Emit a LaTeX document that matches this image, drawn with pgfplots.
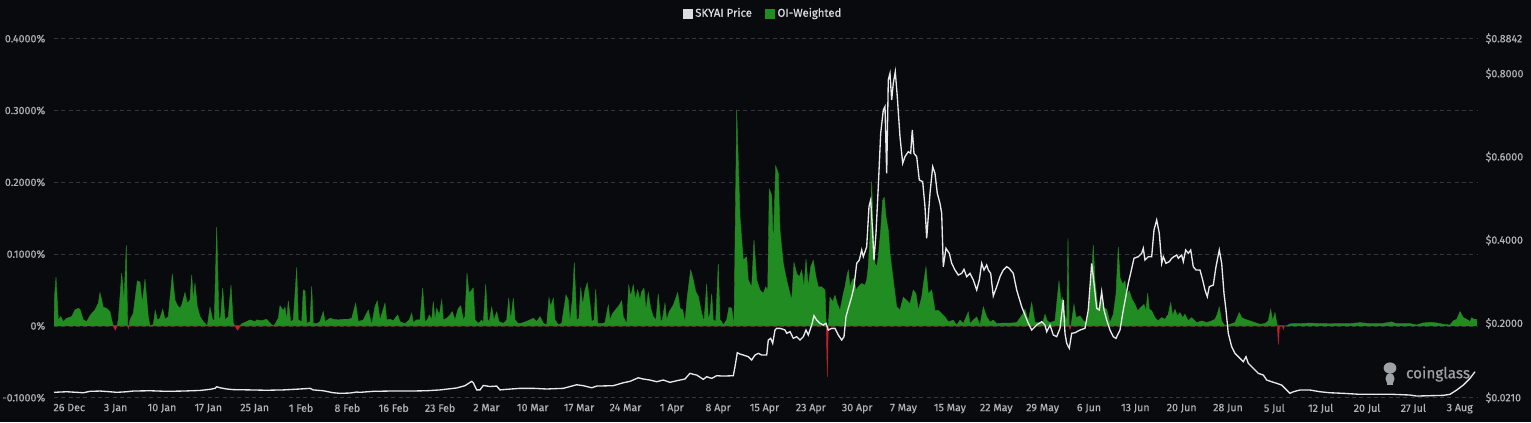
\documentclass[border=0pt]{standalone}
\usepackage{fontspec}
\setmainfont{Fira Sans}
\newfontfamily\lblfont{Fira Sans}[FakeBold=0.5]
\usepackage{pgfplots}
\usepackage{pgfplotstable}
\pgfplotsset{compat=1.18}
\definecolor{bg}{HTML}{090A0E}
\definecolor{gridc}{HTML}{34373D}
\definecolor{oig}{HTML}{218C21}
\definecolor{negr}{HTML}{C4202E}
\definecolor{lbl}{HTML}{AEB1B6}
\definecolor{legtxt}{HTML}{DADCDF}
\definecolor{pricec}{HTML}{E8E8E8}
\definecolor{wm}{HTML}{9EA1A6}

\pgfplotstableread{
x v
54 0
54.5 0.041
56 0.068
58.3 0.0084
60.7 0.013
63.3 0.006
66.7 0.0107
71.7 0.013
75 0.0223
78.3 0.0246
80 0.023
83.3 0.0084
86.7 0.006
90 0.0144
95 0.0223
98.3 0.0316
100 0.0465
103.3 0.026
106.7 0.0246
110 0.020
111.7 0.0084
113.3 0
117 0
118.3 0.0084
121.7 0.0735
124 0.036
126.3 0.112
127.7 0
129 0
130 0.0084
133.3 0.0177
137.3 0.0628
140 0.061
142.3 0.0316
145 0.065
148.3 0.013
150 0
153.3 0.002
155.3 0.0214
157.3 0.0084
160 0.0107
162.7 0.0232
165 0.0093
168.3 0.013
172.3 0.072
175 0.036
177.7 0.028
180 0.0246
181.7 0.029
185 0.0465
187.3 0.0316
190 0.036
191.7 0.071
193.3 0.036
195 0.0595
197.3 0.027
200 0.013
203.3 0.006
207.3 0
210 0.026
212.7 0.0084
214.3 0.0084
216.7 0.1376
219 0.0084
220.7 0.013
222.7 0.0525
225 0.0084
228.3 0.013
231 0.057
233.3 0.0037
235 0
240 0
241.7 0.003
246.7 0.006
250 0.0084
255 0.006
256.7 0.0084
261.7 0.0074
266.7 0.0093
271.7 0.0014
274 0
278.3 0.0107
280 0.028
283.3 0.0214
285 0.026
286.7 0.0084
288.3 0.035
290.7 0.006
293.3 0.0084
296.7 0.0814
298.3 0.0084
301.7 0.006
303.3 0.050
305 0.049
306.7 0.0037
310 0.006
311.7 0.055
313.3 0.0037
316.7 0.003
320 0.006
323.3 0.020
325 0.006
330 0.0107
333.3 0.0093
338.3 0.0084
343.3 0.0093
348.3 0.0093
351.7 0.0107
355.7 0.0316
358.3 0.006
363.3 0.0084
368.3 0.0223
371.7 0.0014
375 0.027
377.3 0.035
380 0.0084
385 0.0316
386.7 0.0084
390 0.0093
393.3 0.0074
397.7 0.0153
400 0.006
405 0.003
409.3 0.0084
411.7 0.0177
413.3 0.0046
416.7 0.0084
420 0.0084
422.7 0.0525
425 0.006
427.3 0.0084
429.3 0.0153
431.7 0.0084
433.3 0.034
435 0.0084
436.7 0.0246
439.3 0.0153
441.7 0.036
443.3 0.0084
446.7 0.0107
450 0.0153
452.3 0.020
455 0.0084
458.3 0.0246
460.7 0.028
463.3 0.0084
465 0.013
467 0.0735
469 0.0456
471.7 0.050
473.3 0.053
475 0.0084
478.3 0.0037
481.7 0.0084
483.3 0.0037
485.7 0.058
487.7 0.0084
489.3 0.006
491.7 0.026
494 0.0084
496.7 0.0195
499 0.006
503.3 0.0037
506.7 0.0084
508.7 0.0386
510.7 0.0084
513.3 0.0386
515 0.0084
518.3 0.003
523.3 0.0046
530 0.0084
533.3 0.0107
536.7 0.006
540 0.013
543.3 0.0037
546.7 0.0014
549 0.0395
550.7 0.027
553.3 0.0386
555 0.0084
558.3 0.0014
561.7 0.0037
566 0.0432
568.3 0.036
570 0.006
572.3 0.036
574.3 0.0883
576.7 0.0084
579 0.0107
580.7 0.0535
582.7 0.029
585 0.050
587.3 0.060
590 0.0316
591.7 0.006
594 0.0084
595.7 0.051
597.7 0.0037
601.7 0.003
605 0.0046
608.3 0.029
610 0.0084
612.7 0.0177
616 0.0232
619.3 0.029
621.7 0.035
623.3 0.013
626.7 0.003
628.7 0.0567
630.7 0.041
633.3 0.0572
635.3 0.037
637.7 0.050
640 0.036
641.7 0.048
644 0.0525
646 0.0223
648.3 0.0465
650.7 0.0246
653.3 0.013
656 0.0084
658.3 0.0446
660.7 0.006
662.3 0.0084
665 0.0316
666.7 0.0084
669.3 0.020
673.3 0.029
677.7 0.0465
680 0.0246
682.7 0.0223
685 0.006
687.3 0.041
690.7 0.078
693.3 0.064
695.7 0.048
698.3 0.041
701.7 0.0177
704 0.006
706.7 0.0586
708.3 0.0084
710 0.0177
711.7 0.0446
713.3 0.0084
715.7 0.006
718.3 0.0865
720 0.0084
721.7 0.006
723.3 0.0014
726.7 0.0084
729 0.026
731.7 0.0246
734 0
736.7 0.3008
740 0.152
743.3 0.0916
746.7 0.0962
748.3 0.0637
751.7 0.0544
754 0.120
756.7 0.0637
760 0.050
763.3 0.045
765.7 0.0544
767.7 0.050
769.3 0.1906
771.7 0.182
773.3 0.110
775.7 0.223
778.3 0.2125
780 0.1334
783.3 0.087
786.7 0.0637
790 0.045
791.7 0.0358
794 0.0883
796.7 0.073
799.3 0.0683
801.7 0.0776
804 0.0544
806 0.093
808.3 0.0544
810.7 0.0823
813.3 0.0916
816 0.0683
818.3 0.0544
821.7 0.0544
825 0.050
826.3 0
828.3 0
830 0.040
832.7 0.0335
835 0.0428
837.3 0.031
840 0.0218
843.3 0.045
845 0.0544
846.7 0.0683
848.3 0.0776
850 0.0544
852.3 0.0637
854 0.066
856 0.050
858.3 0.0544
861.7 0.059
865 0.0567
866.7 0.0637
868.3 0.0823
870 0.124
871.7 0.2008
873.3 0.124
875 0.087
876.7 0.0823
878.3 0.0962
880.7 0.1334
882.7 0.175
884.3 0.179
886 0.152
888.3 0.1334
890 0.101
893.3 0.0637
895 0.045
896.7 0.0265
900 0.0218
903.3 0.040
906.7 0.0358
910 0.031
913.3 0.050
916 0.045
918.3 0.0218
921.7 0.040
924 0.0637
926 0.0823
928.3 0.045
931.7 0.050
935 0.0218
938.3 0.0218
941.7 0.017
945 0.0126
948.3 0.0056
953.3 0.008
956.7 0.001
960 0.008
963.3 0.0033
968.3 0.0195
970 0.0033
973.3 0.008
976.7 0.0126
980 0.001
983.3 0.0265
986.7 0.0126
990 0.0056
993.3 0.008
996.7 0.0033
1003.3 0.004
1010 0.004
1016.7 0.0046
1022.7 0.0163
1025 0.0232
1028.3 0.007
1031.7 0.0325
1035 0.0046
1040 0.0046
1043.3 0.007
1045 0.0163
1047.3 0.007
1050 0.0046
1055 0.007
1059 0.0628
1061 0.035
1062.7 0.0395
1064.3 0.0163
1066.7 0.007
1068 0.1218
1069.3 0
1071 0
1071.7 0.007
1074 0.030
1076 0.0116
1080 0.014
1083.3 0.007
1086.7 0.0046
1089.3 0.0256
1091 0.058
1093.3 0.1125
1095 0.0628
1098.3 0.021
1100.7 0.0395
1103.3 0.0256
1106.7 0.0232
1110 0.0046
1113.3 0.0163
1116 0.0442
1118.3 0.110
1120 0.0674
1122.7 0.058
1125 0.0628
1126.7 0.0442
1129.3 0.0488
1132 0.0372
1135 0.030
1137.7 0.021
1140.7 0.0256
1144 0.030
1146 0.021
1147.7 0.0456
1149.3 0.0232
1151.7 0.021
1155 0.0116
1158.3 0.007
1161.7 0.0116
1165 0.0093
1168.3 0.0163
1170.7 0.0325
1172.7 0.014
1175 0.0232
1177.3 0.014
1180 0.0186
1182.7 0.0116
1185 0.0163
1188.3 0.007
1191.7 0.0116
1196.7 0.0046
1201.7 0.007
1206.7 0.0046
1211.7 0.007
1215 0.0093
1217.3 0.0163
1219.3 0.0265
1221.7 0.007
1225 0
1230 0.0023
1235 0.0046
1239.3 0.0186
1241.7 0.0116
1245 0.0093
1250 0.007
1255 0.0046
1260 0.0023
1265 0.0033
1268.3 0.007
1270.7 0.0232
1272.7 0.007
1275 0.0186
1276.7 0.0046
1277.5 0
1286.7 0
1290 0.003
1300 0.0033
1310 0.004
1320 0.0033
1330 0.003
1340 0.0033
1350 0.0033
1360 0.0046
1370 0.0033
1376.7 0.0033
1381.7 0.0033
1391.7 0.0056
1396 0.0033
1410 0.0033
1416.7 0.0014
1423.3 0.0042
1430 0.005
1436.7 0.0042
1443.3 0.0023
1450 0.0014
1453.3 0.007
1456.7 0.0093
1460 0.020
1463.3 0.0116
1466.7 0.0093
1470 0.006
1471.7 0.0116
1474 0.0093
1476.7 0.0093
1477 0
}\funding

\pgfplotstableread{
x v
113.3 0
115.3 -0.006
117 0
127.7 0
128.3 -0.004
129 0
235 0
237.7 -0.006
240 0
826.3 0
827.3 -0.071
828.3 0
1069.3 0
1070 -0.005
1071 0
1277.5 0
1278.3 -0.026
1279.5 0
1282.5 0
1283.3 -0.005
1284.5 0
}\negfunding

\pgfplotstableread{
x p
54 0.0340
60 0.0347
66.7 0.0354
76.7 0.0340
83.3 0.0330
90 0.0364
100 0.0371
110 0.0354
116.7 0.0340
126.7 0.0354
133.3 0.0371
150 0.0378
166.7 0.0364
183.3 0.0371
200 0.0385
210 0.0412
215 0.0435
216.7 0.0474
220 0.0450
226.7 0.0420
233.3 0.0405
250 0.0398
266.7 0.0390
283.3 0.0398
300 0.0420
310 0.0436
313.3 0.0398
323.3 0.0378
333.3 0.0330
340 0.0316
350 0.0323
356.7 0.0347
360 0.0340
373.3 0.0364
390 0.0371
410 0.0371
426.7 0.0378
440 0.0398
456.7 0.0445
465 0.0500
471.7 0.0604
473.3 0.0570
476.7 0.0398
480 0.0398
483.3 0.0505
490 0.0480
496.7 0.0490
500 0.0398
506.7 0.0412
520 0.0436
533.3 0.0436
546.7 0.0420
563.3 0.0436
573.3 0.0500
576.7 0.0522
583.3 0.0500
591.7 0.0450
596.7 0.0490
613.3 0.0500
623.3 0.0570
630 0.0604
638.3 0.0690
643.3 0.0660
650 0.0636
656.7 0.0595
663.3 0.0636
670 0.0580
676.7 0.0619
685 0.0660
690 0.0797
693.3 0.0773
696.7 0.0756
703.3 0.0652
706.7 0.0715
711.7 0.0676
716.7 0.0739
723.3 0.0731
733.3 0.0739
735 0.0956
737.3 0.1292
740 0.1260
743.3 0.1237
748.3 0.1196
751.7 0.1117
755 0.1237
758.3 0.1277
761.7 0.1237
766.7 0.1237
768.3 0.1597
770.7 0.1638
772.7 0.1518
775 0.1838
776.7 0.1878
780 0.1878
783.3 0.1854
785 0.1838
786.7 0.1758
790 0.1797
793.3 0.1638
796.7 0.1677
800 0.1597
803.3 0.1677
806 0.1838
808.3 0.1718
811.7 0.1958
814 0.2182
816.7 0.2078
820 0.1999
823.3 0.1958
826 0.1999
828.3 0.1838
831.7 0.1878
835 0.1878
838.3 0.1718
841.7 0.1597
844 0.1677
846 0.2158
848.3 0.2360
851.7 0.2638
854 0.2879
856.7 0.3441
859.3 0.3521
861.7 0.3761
863.3 0.3601
866.7 0.3841
869 0.4802
870.7 0.4964
872.7 0.4163
874 0.3521
876 0.4163
878.3 0.5283
880.7 0.6567
883.3 0.7124
885 0.7207
886.7 0.5605
888.3 0.7847
890 0.8010
891.7 0.7368
893.3 0.7770
895.3 0.8048
897.3 0.7447
900 0.6486
902.7 0.5846
905 0.6005
908.3 0.6125
910.7 0.6086
912.3 0.6647
914 0.6086
916.7 0.6005
919.3 0.5444
922.7 0.5404
925 0.4802
926.7 0.4043
930 0.5124
932.7 0.5765
935 0.5605
937.3 0.5124
940 0.4884
941.7 0.4644
943.3 0.3360
946 0.3802
949.3 0.3682
951.7 0.3441
955 0.3280
958.3 0.3160
961.7 0.3200
964 0.3297
966.7 0.3119
970 0.3200
973.3 0.3040
976.7 0.2800
979.3 0.3040
981.7 0.3441
984 0.3280
986.7 0.3401
988.3 0.3280
990.7 0.3200
993.3 0.2655
996.7 0.2879
1000 0.3119
1003.3 0.3280
1006.7 0.3360
1009.3 0.3320
1013.3 0.3200
1016.7 0.2800
1021.7 0.2398
1025 0.2198
1028.3 0.1999
1031.7 0.1838
1036.7 0.1958
1041.7 0.2037
1045 0.1958
1046.7 0.1797
1050 0.1958
1053.3 0.1718
1056.7 0.1677
1060 0.1878
1063.3 0.2559
1065 0.1758
1066.7 0.1518
1069.3 0.1398
1071.7 0.1758
1075 0.1773
1080 0.1838
1085 0.1878
1088.3 0.2319
1091.7 0.3441
1094 0.2960
1096.7 0.2360
1099.3 0.2319
1101.7 0.2759
1104 0.2319
1106.7 0.2078
1110 0.1838
1113.3 0.1677
1116 0.1638
1120 0.1838
1123.3 0.2319
1128.3 0.2960
1131 0.3240
1134 0.3562
1138.3 0.3601
1141.7 0.3682
1143.3 0.3802
1145 0.3521
1148.3 0.3601
1151.7 0.3601
1154 0.4242
1156.7 0.4483
1159.3 0.4163
1161.7 0.3441
1163.3 0.3601
1166 0.3441
1169.3 0.3481
1171.7 0.3562
1174 0.3601
1176.7 0.3641
1178.3 0.3562
1181.7 0.3641
1183.3 0.3481
1185.7 0.3761
1188.3 0.3682
1190.7 0.3761
1193.3 0.3360
1196 0.3280
1200 0.3280
1202.7 0.3040
1205 0.2800
1207.3 0.2638
1209.3 0.2879
1213.3 0.2919
1216 0.3360
1219.3 0.3761
1221.7 0.3441
1224 0.2720
1226 0.2319
1228.3 0.1758
1231.7 0.1436
1235 0.1277
1240 0.1157
1243.3 0.1076
1246 0.1196
1248.3 0.1037
1253.3 0.0917
1258.3 0.0797
1263.3 0.0756
1266.7 0.0636
1271.7 0.0595
1276.7 0.0556
1281.7 0.0515
1285 0.0436
1290 0.0316
1293.3 0.0354
1300 0.0395
1310 0.0395
1320 0.0354
1330 0.0330
1343.3 0.0316
1360 0.0292
1376.7 0.0292
1393.3 0.0292
1410 0.0275
1416.7 0.0251
1430 0.0259
1443.3 0.0267
1450 0.0292
1456.7 0.0395
1463.3 0.0515
1470 0.0676
1475 0.0835
}\price

\pgfplotsset{
  common/.style={
    at={(40.5pt,18.2pt)}, anchor=south west,
    scale only axis, width=1067.25pt, height=269.3pt,
    xmin=54, xmax=1477,
    axis line style={draw=none},
    major tick length=0pt,
    tick style={draw=none},
    ticklabel style={font=\lblfont\fontsize{8}{9}\selectfont, text=lbl},
  }
}

\begin{document}
\begin{tikzpicture}[x=1pt,y=1pt]
\fill[bg] (0,0) rectangle (1148.25,316.5);
\useasboundingbox (0,0) rectangle (1148.25,316.5);
\begin{axis}[common,
  ymin=-0.1, ymax=0.4,
  ytick={-0.1,0,0.1,0.2,0.3,0.4},
  yticklabels={-0.1000\%,0\%,0.1000\%,0.2000\%,0.3000\%,0.4000\%},
  yticklabel style={xshift=-3pt},
  ymajorgrids,
  grid style={gridc, dash pattern=on 3pt off 2.5pt, line width=0.6pt},
  xtick={69.3,115.65,162.0,208.35,254.7,301.05,347.4,393.75,440.1,486.45,532.8,579.15,625.5,671.85,718.2,764.55,810.9,857.25,903.6,949.95,996.3,1042.65,1089.0,1135.35,1181.7,1228.05,1274.4,1320.75,1367.1,1413.45,1459.8},
  xticklabels={26 Dec,3 Jan,10 Jan,17 Jan,25 Jan,1 Feb,8 Feb,16 Feb,23 Feb,2 Mar,10 Mar,17 Mar,24 Mar,1 Apr,8 Apr,15 Apr,23 Apr,30 Apr,7 May,15 May,22 May,29 May,6 Jun,13 Jun,20 Jun,28 Jun,5 Jul,12 Jul,20 Jul,27 Jul,3 Aug},
  xticklabel style={yshift=-1pt},
]
\addplot[fill=oig, draw=oig, line width=0.3pt] table[x=x, y=v] {\funding} \closedcycle;
\addplot[fill=negr, draw=negr, line width=0.3pt] table[x=x, y=v] {\negfunding} \closedcycle;
\end{axis}
\node[wm, font=\lblfont\fontsize{11.5}{12}\selectfont, anchor=west] at (1051,36) {coinglass};
\fill[wm] (1042.5,40.5) ellipse (4.8 and 4.2);
\fill[wm] (1042.5,32.5) ellipse (3.4 and 4.2);
\fill[wm] (1040,28) rectangle (1045,30);
\begin{axis}[common,
  ymin=0.021, ymax=0.8842,
  axis x line=none,
  axis y line*=right,
  ytick={0.021,0.2,0.4,0.6,0.8,0.8842},
  yticklabels={\$0.0210,\$0.2000,\$0.4000,\$0.6000,\$0.8000,\$0.8842},
  yticklabel style={xshift=3pt},
  legend columns=2,
  legend style={at={(0.4986,1.0706)}, anchor=center, draw=none, fill=none,
    text=legtxt, font=\lblfont\fontsize{8.5}{9}\selectfont,
    /tikz/every odd column/.append style={column sep=0pt},
    /tikz/every even column/.append style={column sep=8pt}},
]
\addlegendimage{legend image code/.code={\fill[legtxt] (0pt,-3.4pt) rectangle (6.8pt,3.4pt);}}
\addlegendentry{SKYAI Price}
\addlegendimage{legend image code/.code={\fill[oig] (0pt,-3.4pt) rectangle (6.8pt,3.4pt);}}
\addlegendentry{OI-Weighted}
\addplot[pricec, line width=1.0pt, forget plot] table[x=x, y=p] {\price};
\end{axis}
\end{tikzpicture}
\end{document}
